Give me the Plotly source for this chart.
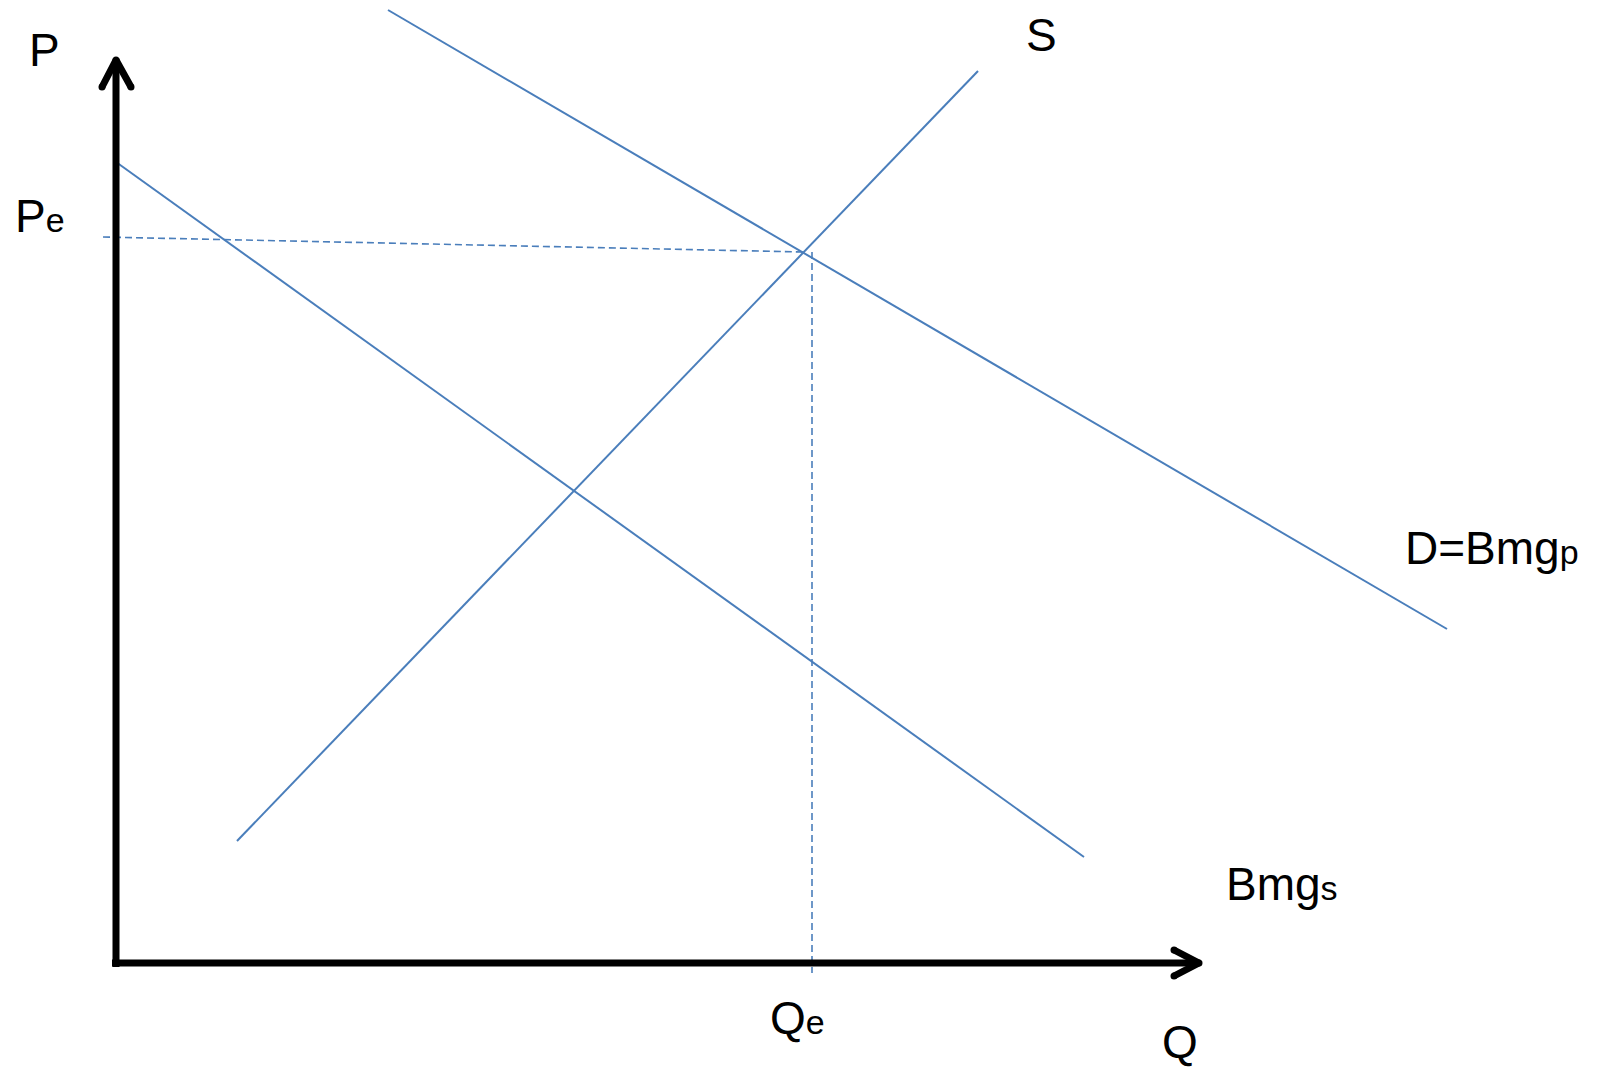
import plotly.graph_objects as go

# Economic diagram data (Q on x, P on y), arbitrary units
supply_q = [12.1, 86.2]
supply_p = [12.2, 89.2]
demand_q = [27.2, 133.1]          # D = Bmg_p
demand_p = [95.3, 33.4]
bmgs_q = [0.0, 96.8]              # Bmg_s
bmgs_p = [80.1, 10.6]
pe_line_q = [-1.3, 68.7]
pe_line_p = [72.6, 71.1]
qe_line_q = [69.6, 69.6]
qe_line_p = [71.1, -1.0]

yaxis_q = [0.0, 0.0]
yaxis_p = [-0.4, 90.3]
xaxis_q = [-0.4, 108.3]
xaxis_p = [0.0, 0.0]
yarrow_q = [-1.4, 0.0, 1.5]
yarrow_p = [87.6, 90.3, 87.6]
xarrow_q = [105.8, 108.3, 105.8]
xarrow_p = [1.3, 0.0, -1.3]

BLUE = "#4A7EBB"
FONT = "Liberation Sans, Arial, sans-serif"
SUB = "<span style='font-size:34px'>{}</span>"

labels = [
    # text, x, y
    ("P", -8.85, 91.3),
    ("P" + SUB.format("e"), -10.25, 74.7),
    ("S", 90.85, 92.8),
    ("D=Bmg" + SUB.format("p"), 128.8, 41.5),
    ("Bmg" + SUB.format("s"), 110.85, 7.9),
    ("Q", 104.5, -7.9),
    ("Q" + SUB.format("e"), 65.25, -5.5),
]

fig = go.Figure()

def add_line(xs, ys, color, width, dash="solid"):
    fig.add_trace(go.Scatter(x=xs, y=ys, mode="lines",
                             line=dict(color=color, width=width, dash=dash),
                             hoverinfo="skip", showlegend=False))

add_line(supply_q, supply_p, BLUE, 2)
add_line(demand_q, demand_p, BLUE, 2)
add_line(bmgs_q, bmgs_p, BLUE, 2)
add_line(pe_line_q, pe_line_p, BLUE, 1.6, "7px,4px")
add_line(qe_line_q, qe_line_p, BLUE, 1.6, "7px,4px")

add_line(yaxis_q, yaxis_p, "black", 7)
add_line(xaxis_q, xaxis_p, "black", 7)
for xs, ys in [(yarrow_q, yarrow_p), (xarrow_q, xarrow_p)]:
    fig.add_trace(go.Scatter(x=xs, y=ys, mode="lines+markers",
                             line=dict(color="black", width=7),
                             marker=dict(color="black", size=7, line=dict(width=0)),
                             hoverinfo="skip", showlegend=False))

for text, x, y in labels:
    fig.add_annotation(x=x, y=y, text=text, showarrow=False,
                       xanchor="left", yanchor="middle", borderpad=0,
                       font=dict(family=FONT, size=46, color="black"))

fig.update_layout(
    width=1590, height=1061,
    margin=dict(l=0, r=0, t=0, b=0),
    paper_bgcolor="white", plot_bgcolor="white",
    xaxis=dict(range=[-10.8, 148.2], visible=False, fixedrange=True),
    yaxis=dict(range=[-10.6, 95.5], visible=False, fixedrange=True),
)

fig.write_html("out.html")
